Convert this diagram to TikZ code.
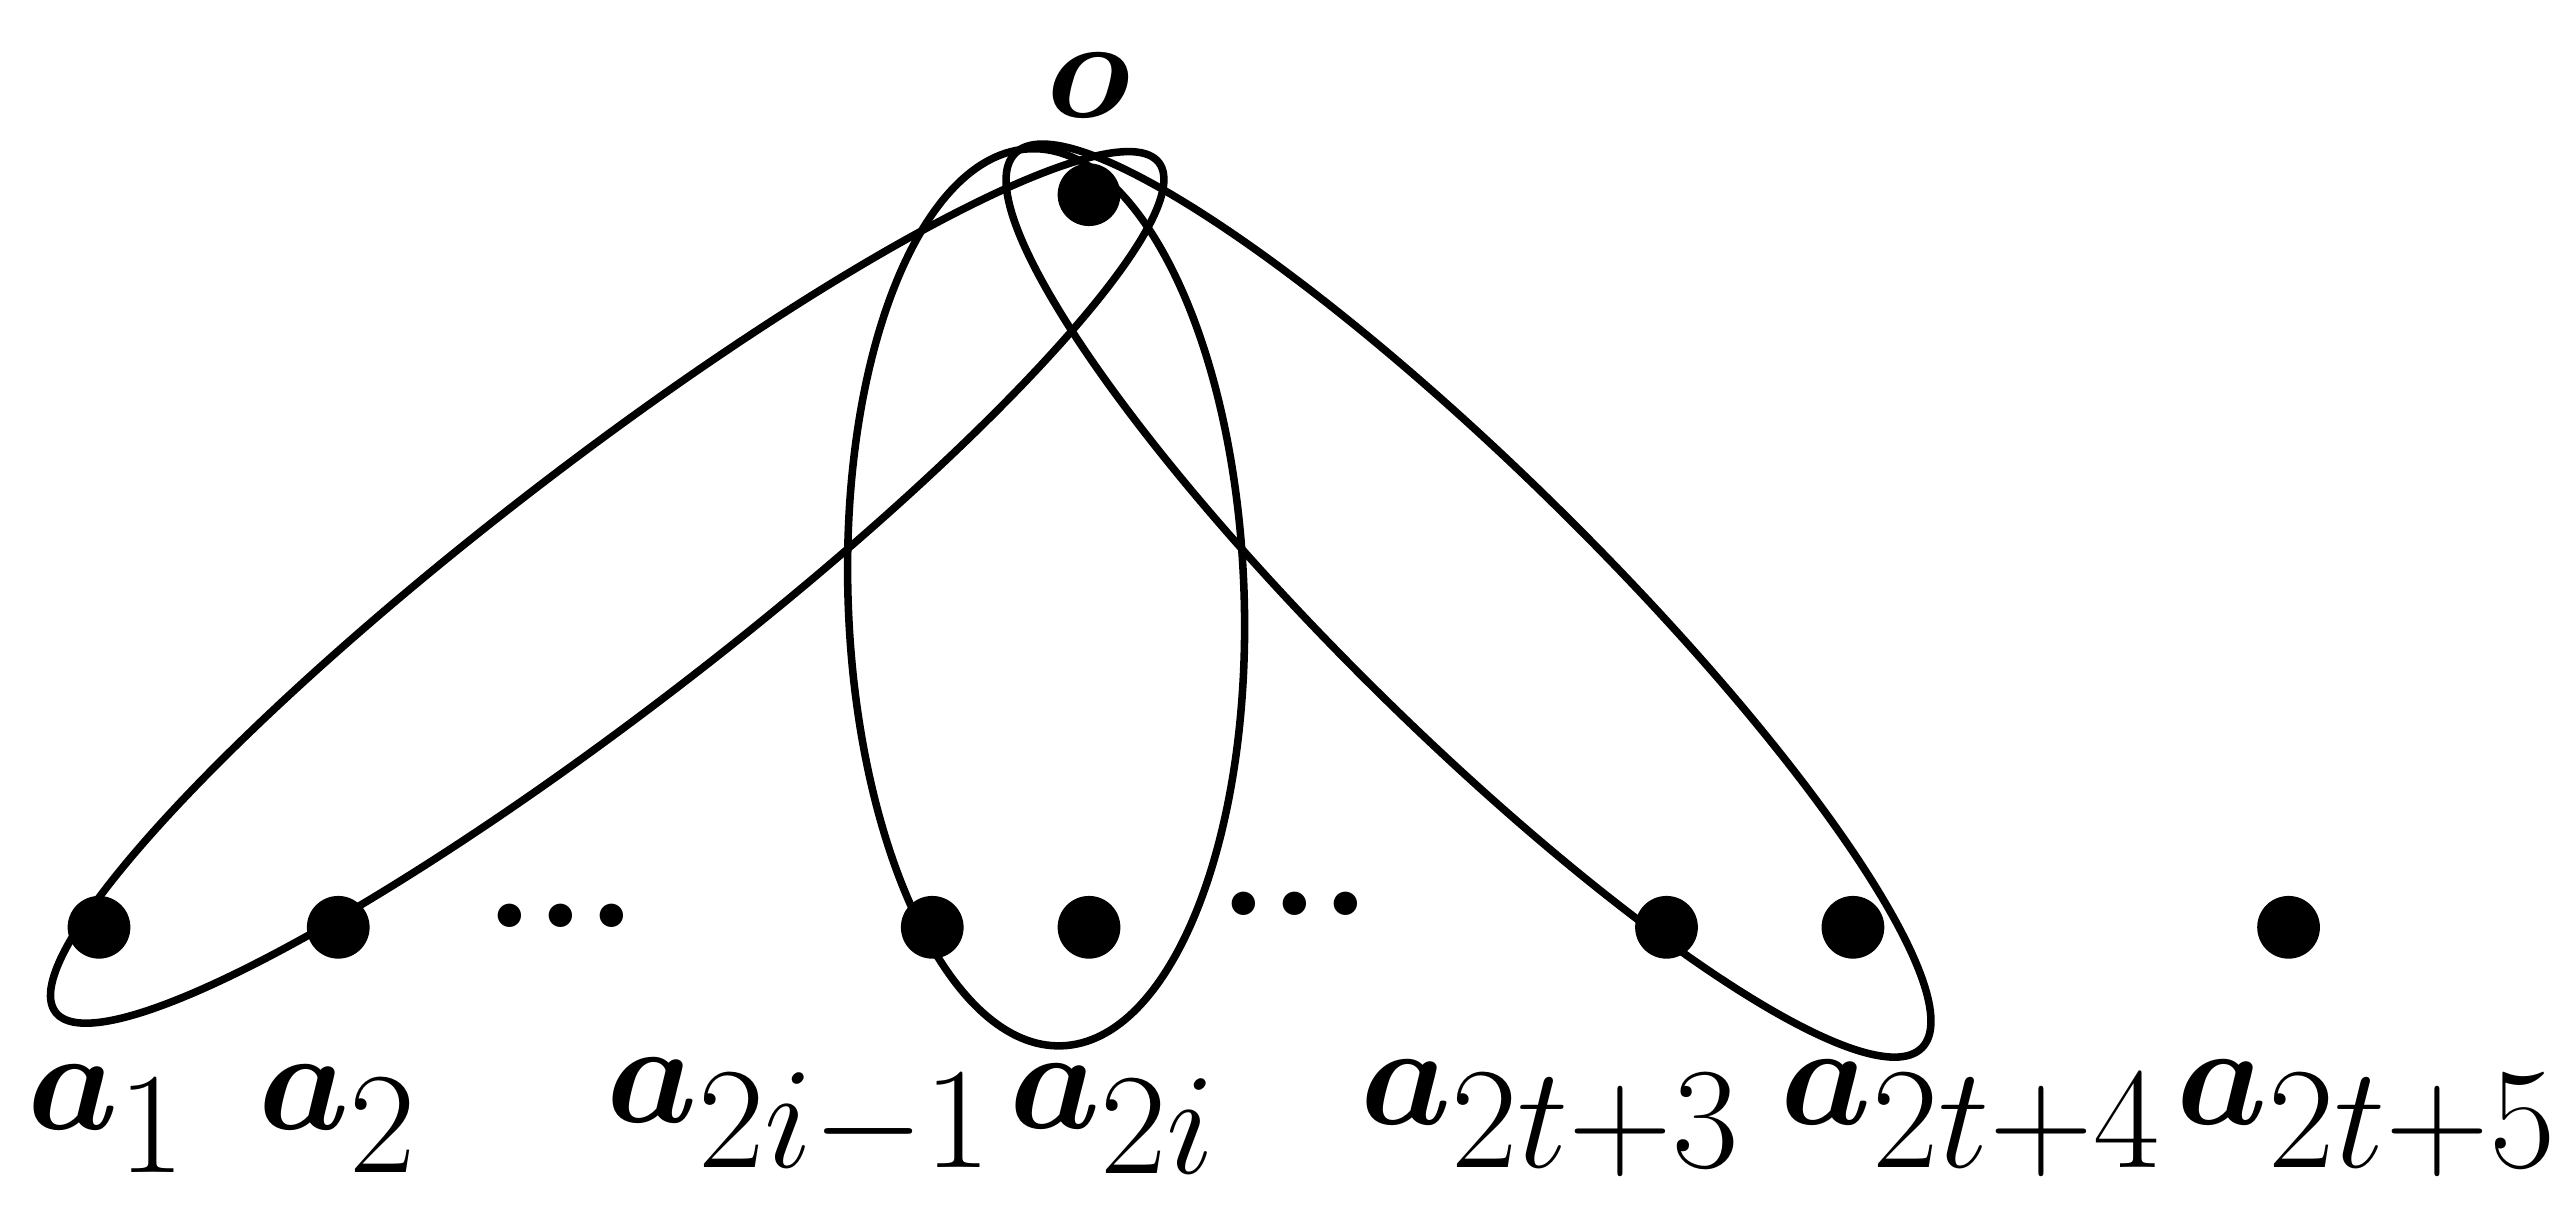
\documentclass[tikz,border=0pt]{standalone}
\usepackage{amsmath,bm}
\begin{document}
\begin{tikzpicture}[x=0.01cm,y=-0.01cm,
  dot/.style={circle,fill=black,inner sep=0pt,minimum size=0.38cm},
  lab/.style={font=\fontsize{35}{40}\selectfont},
  hyper/.style={draw,line width=1.3pt}]
\useasboundingbox (0,0) rectangle (1560,740);
\node[dot] (o) at (660,118) {};
\node[lab] (lo) at (660,52) {$\bm{o}$};
\foreach \n/\x in {1/60,2/205,3/565,4/660,5/1010,6/1123,7/1387}
  \node[dot] (d\n) at (\x,562) {};
\node[font=\fontsize{28}{32}\selectfont] (c1) at (340,555) {\textbf{...}};
\node[font=\fontsize{28}{32}\selectfont] (c2) at (785,548) {\textbf{...}};
\node[lab] (l1) at (65,678) {$\bm{a}_1$};
\node[lab] (l2) at (205,678) {$\bm{a}_2$};
\node[lab] (l3) at (485,678) {$\bm{a}_{2i-1}$};
\node[lab] (l4) at (675,678) {$\bm{a}_{2i}$};
\node[lab] (l5) at (940,678) {$\bm{a}_{2t+3}$};
\node[lab] (l6) at (1195,678) {$\bm{a}_{2t+4}$};
\node[lab] (l7) at (1435,678) {$\bm{a}_{2t+5}$};
\draw[hyper] (368,356) ellipse[x radius=422, y radius=74, rotate=37.6];
\draw[hyper] (634,362) ellipse[x radius=120, y radius=272, rotate=2];
\draw[hyper] (890,364) ellipse[x radius=386, y radius=78, rotate=-44.6];
\end{tikzpicture}
\end{document}
